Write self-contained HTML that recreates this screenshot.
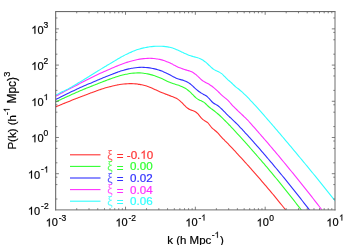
<!DOCTYPE html>
<html><head><meta charset="utf-8"><style>
html,body{margin:0;padding:0;background:#fff;}
body{width:349px;height:245px;overflow:hidden;position:relative;font-family:"Liberation Sans",sans-serif;}
</style></head><body>
<svg width="349" height="245" viewBox="0 0 349 245" style="position:absolute;left:0;top:0;will-change:transform">
<defs><clipPath id="c"><rect x="55.7" y="11.6" width="279.3" height="198.3"/></clipPath></defs>
<g clip-path="url(#c)" fill="none" stroke-width="1.1" stroke-linejoin="round">
<path d="M55.70,106.81 C56.03,106.68 57.03,106.30 57.70,106.03 C58.37,105.77 59.03,105.50 59.70,105.23 C60.37,104.96 61.03,104.68 61.70,104.41 C62.37,104.13 63.03,103.84 63.70,103.57 C64.37,103.29 65.03,103.01 65.70,102.74 C66.37,102.47 67.03,102.21 67.70,101.95 C68.37,101.68 69.03,101.41 69.70,101.15 C70.37,100.88 71.03,100.61 71.70,100.34 C72.37,100.06 73.03,99.79 73.70,99.52 C74.37,99.25 75.03,98.98 75.70,98.72 C76.37,98.46 77.03,98.20 77.70,97.95 C78.37,97.69 79.03,97.44 79.70,97.18 C80.37,96.92 81.03,96.67 81.70,96.41 C82.37,96.16 83.03,95.90 83.70,95.65 C84.37,95.40 85.03,95.15 85.70,94.90 C86.37,94.65 87.03,94.40 87.70,94.15 C88.37,93.91 89.03,93.67 89.70,93.42 C90.37,93.17 91.03,92.91 91.70,92.65 C92.37,92.40 93.03,92.15 93.70,91.90 C94.37,91.65 95.03,91.40 95.70,91.16 C96.37,90.92 97.03,90.68 97.70,90.44 C98.37,90.21 99.03,89.98 99.70,89.75 C100.37,89.52 101.03,89.30 101.70,89.08 C102.37,88.86 103.03,88.65 103.70,88.44 C104.37,88.23 105.03,88.03 105.70,87.83 C106.37,87.63 107.03,87.44 107.70,87.25 C108.37,87.06 109.03,86.88 109.70,86.70 C110.37,86.53 111.03,86.36 111.70,86.20 C112.37,86.03 113.03,85.88 113.70,85.73 C114.37,85.58 115.03,85.43 115.70,85.30 C116.37,85.16 117.03,85.04 117.70,84.91 C118.37,84.79 119.03,84.68 119.70,84.58 C120.37,84.47 121.03,84.37 121.70,84.29 C122.37,84.20 123.03,84.12 123.70,84.05 C124.37,83.98 125.03,83.91 125.70,83.86 C126.37,83.81 127.03,83.77 127.70,83.73 C128.37,83.70 129.03,83.68 129.70,83.67 C130.37,83.65 131.03,83.65 131.70,83.67 C132.37,83.68 133.03,83.70 133.70,83.73 C134.37,83.77 135.03,83.81 135.70,83.87 C136.37,83.93 137.03,84.01 137.70,84.09 C138.37,84.18 139.03,84.28 139.70,84.39 C140.37,84.50 141.03,84.63 141.70,84.77 C142.37,84.92 143.03,85.07 143.70,85.25 C144.37,85.42 145.03,85.60 145.70,85.81 C146.37,86.01 147.03,86.23 147.70,86.47 C148.37,86.70 149.03,86.96 149.70,87.23 C150.37,87.49 151.03,87.77 151.70,88.06 C152.37,88.35 153.03,88.65 153.70,88.95 C154.37,89.25 155.03,89.56 155.70,89.87 C156.37,90.17 157.03,90.48 157.70,90.78 C158.37,91.09 159.03,91.39 159.70,91.68 C160.37,91.97 161.03,92.25 161.70,92.53 C162.37,92.80 163.03,93.07 163.70,93.33 C164.37,93.60 165.03,93.86 165.70,94.11 C166.37,94.37 167.03,94.62 167.70,94.87 C168.37,95.13 169.03,95.38 169.70,95.63 C170.37,95.88 171.03,96.14 171.70,96.40 C172.37,96.66 173.03,96.91 173.70,97.19 C174.37,97.47 175.03,97.74 175.70,98.06 C176.37,98.39 177.03,98.73 177.70,99.16 C178.37,99.58 179.03,100.05 179.70,100.60 C180.37,101.15 181.03,101.80 181.70,102.45 C182.37,103.11 183.03,103.84 183.70,104.52 C184.37,105.21 185.03,105.93 185.70,106.56 C186.37,107.19 187.03,107.81 187.70,108.30 C188.37,108.80 189.03,109.19 189.70,109.53 C190.37,109.86 191.03,110.06 191.70,110.30 C192.37,110.55 193.03,110.72 193.70,111.00 C194.37,111.28 195.03,111.55 195.70,112.00 C196.37,112.44 197.03,113.00 197.70,113.67 C198.37,114.35 199.03,115.26 199.70,116.04 C200.37,116.83 201.03,117.72 201.70,118.40 C202.37,119.09 203.03,119.66 203.70,120.15 C204.37,120.64 205.03,120.92 205.70,121.33 C206.37,121.74 207.03,122.00 207.70,122.63 C208.37,123.25 209.03,124.26 209.70,125.08 C210.37,125.91 211.03,126.86 211.70,127.58 C212.37,128.30 213.03,128.83 213.70,129.40 C214.37,129.97 215.03,130.43 215.70,131.00 C216.37,131.58 217.03,132.17 217.70,132.85 C218.37,133.53 219.03,134.33 219.70,135.08 C220.37,135.82 221.03,136.61 221.70,137.33 C222.37,138.06 223.03,138.77 223.70,139.45 C224.37,140.14 225.03,140.78 225.70,141.45 C226.37,142.12 227.03,142.79 227.70,143.47 C228.37,144.16 229.03,144.86 229.70,145.56 C230.37,146.26 231.03,146.97 231.70,147.67 C232.37,148.38 233.03,149.09 233.70,149.80 C234.37,150.51 235.03,151.22 235.70,151.94 C236.37,152.66 237.03,153.38 237.70,154.10 C238.37,154.82 239.03,155.54 239.70,156.27 C240.37,157.00 241.03,157.73 241.70,158.46 C242.37,159.19 243.03,159.92 243.70,160.66 C244.37,161.40 245.03,162.14 245.70,162.88 C246.37,163.62 247.03,164.37 247.70,165.11 C248.37,165.86 249.03,166.61 249.70,167.36 C250.37,168.11 251.03,168.85 251.70,169.60 C252.37,170.35 253.03,171.10 253.70,171.86 C254.37,172.61 255.03,173.36 255.70,174.12 C256.37,174.88 257.03,175.64 257.70,176.41 C258.37,177.17 259.03,177.93 259.70,178.70 C260.37,179.47 261.03,180.24 261.70,181.02 C262.37,181.79 263.03,182.57 263.70,183.35 C264.37,184.13 265.03,184.91 265.70,185.69 C266.37,186.48 267.03,187.26 267.70,188.05 C268.37,188.84 269.03,189.63 269.70,190.43 C270.37,191.22 271.03,192.02 271.70,192.82 C272.37,193.62 273.03,194.42 273.70,195.22 C274.37,196.03 275.03,196.84 275.70,197.65 C276.37,198.46 277.03,199.27 277.70,200.08 C278.37,200.90 279.03,201.72 279.70,202.54 C280.37,203.36 281.03,204.18 281.70,205.01 C282.37,205.83 283.03,206.66 283.70,207.49 C284.37,208.32 285.37,209.58 285.70,210.00" stroke="#ff3030"/>
<path d="M55.70,101.94 C56.03,101.78 57.03,101.30 57.70,100.98 C58.37,100.66 59.03,100.34 59.70,100.02 C60.37,99.71 61.03,99.40 61.70,99.08 C62.37,98.77 63.03,98.46 63.70,98.16 C64.37,97.85 65.03,97.54 65.70,97.24 C66.37,96.93 67.03,96.63 67.70,96.33 C68.37,96.03 69.03,95.74 69.70,95.44 C70.37,95.14 71.03,94.84 71.70,94.54 C72.37,94.24 73.03,93.94 73.70,93.64 C74.37,93.35 75.03,93.05 75.70,92.76 C76.37,92.47 77.03,92.18 77.70,91.89 C78.37,91.60 79.03,91.31 79.70,91.03 C80.37,90.75 81.03,90.46 81.70,90.18 C82.37,89.90 83.03,89.63 83.70,89.35 C84.37,89.07 85.03,88.80 85.70,88.53 C86.37,88.25 87.03,87.98 87.70,87.72 C88.37,87.45 89.03,87.18 89.70,86.92 C90.37,86.66 91.03,86.39 91.70,86.13 C92.37,85.87 93.03,85.62 93.70,85.36 C94.37,85.10 95.03,84.84 95.70,84.58 C96.37,84.31 97.03,84.03 97.70,83.76 C98.37,83.49 99.03,83.22 99.70,82.95 C100.37,82.69 101.03,82.42 101.70,82.16 C102.37,81.90 103.03,81.64 103.70,81.38 C104.37,81.12 105.03,80.87 105.70,80.62 C106.37,80.36 107.03,80.11 107.70,79.86 C108.37,79.61 109.03,79.36 109.70,79.12 C110.37,78.88 111.03,78.65 111.70,78.42 C112.37,78.19 113.03,77.97 113.70,77.74 C114.37,77.52 115.03,77.29 115.70,77.07 C116.37,76.86 117.03,76.64 117.70,76.43 C118.37,76.22 119.03,76.00 119.70,75.81 C120.37,75.61 121.03,75.44 121.70,75.27 C122.37,75.09 123.03,74.93 123.70,74.77 C124.37,74.62 125.03,74.47 125.70,74.32 C126.37,74.18 127.03,74.05 127.70,73.93 C128.37,73.80 129.03,73.69 129.70,73.58 C130.37,73.48 131.03,73.38 131.70,73.30 C132.37,73.22 133.03,73.15 133.70,73.09 C134.37,73.03 135.03,72.98 135.70,72.95 C136.37,72.91 137.03,72.89 137.70,72.89 C138.37,72.88 139.03,72.89 139.70,72.92 C140.37,72.94 141.03,72.98 141.70,73.03 C142.37,73.09 143.03,73.15 143.70,73.24 C144.37,73.32 145.03,73.42 145.70,73.53 C146.37,73.64 147.03,73.76 147.70,73.90 C148.37,74.04 149.03,74.19 149.70,74.36 C150.37,74.52 151.03,74.70 151.70,74.89 C152.37,75.08 153.03,75.28 153.70,75.49 C154.37,75.71 155.03,75.93 155.70,76.17 C156.37,76.41 157.03,76.66 157.70,76.92 C158.37,77.18 159.03,77.45 159.70,77.73 C160.37,78.02 161.03,78.31 161.70,78.61 C162.37,78.91 163.03,79.22 163.70,79.53 C164.37,79.84 165.03,80.15 165.70,80.46 C166.37,80.77 167.03,81.08 167.70,81.38 C168.37,81.68 169.03,81.97 169.70,82.26 C170.37,82.54 171.03,82.81 171.70,83.07 C172.37,83.32 173.03,83.56 173.70,83.79 C174.37,84.01 175.03,84.22 175.70,84.42 C176.37,84.63 177.03,84.83 177.70,85.04 C178.37,85.25 179.03,85.46 179.70,85.70 C180.37,85.94 181.03,86.18 181.70,86.47 C182.37,86.75 183.03,87.05 183.70,87.40 C184.37,87.75 185.03,88.13 185.70,88.57 C186.37,89.00 187.03,89.49 187.70,90.01 C188.37,90.54 189.03,91.11 189.70,91.71 C190.37,92.31 191.03,92.95 191.70,93.61 C192.37,94.27 193.03,94.99 193.70,95.66 C194.37,96.33 195.03,97.06 195.70,97.63 C196.37,98.21 197.03,98.69 197.70,99.10 C198.37,99.52 199.03,99.81 199.70,100.14 C200.37,100.46 201.03,100.71 201.70,101.05 C202.37,101.38 203.03,101.69 203.70,102.14 C204.37,102.59 205.03,103.12 205.70,103.73 C206.37,104.33 207.03,105.14 207.70,105.77 C208.37,106.41 209.03,107.00 209.70,107.55 C210.37,108.10 211.03,108.56 211.70,109.06 C212.37,109.56 213.03,110.06 213.70,110.56 C214.37,111.07 215.03,111.58 215.70,112.11 C216.37,112.64 217.03,113.18 217.70,113.74 C218.37,114.31 219.03,114.89 219.70,115.49 C220.37,116.10 221.03,116.72 221.70,117.35 C222.37,117.99 223.03,118.64 223.70,119.30 C224.37,119.96 225.03,120.64 225.70,121.31 C226.37,121.99 227.03,122.68 227.70,123.37 C228.37,124.06 229.03,124.76 229.70,125.46 C230.37,126.16 231.03,126.87 231.70,127.58 C232.37,128.28 233.03,128.99 233.70,129.70 C234.37,130.41 235.03,131.12 235.70,131.84 C236.37,132.56 237.03,133.28 237.70,134.01 C238.37,134.73 239.03,135.46 239.70,136.20 C240.37,136.93 241.03,137.66 241.70,138.40 C242.37,139.13 243.03,139.87 243.70,140.61 C244.37,141.35 245.03,142.10 245.70,142.84 C246.37,143.59 247.03,144.34 247.70,145.09 C248.37,145.84 249.03,146.60 249.70,147.35 C250.37,148.11 251.03,148.87 251.70,149.63 C252.37,150.39 253.03,151.16 253.70,151.92 C254.37,152.68 255.03,153.45 255.70,154.21 C256.37,154.98 257.03,155.73 257.70,156.50 C258.37,157.26 259.03,158.03 259.70,158.80 C260.37,159.57 261.03,160.34 261.70,161.11 C262.37,161.89 263.03,162.67 263.70,163.45 C264.37,164.22 265.03,165.01 265.70,165.79 C266.37,166.58 267.03,167.36 267.70,168.15 C268.37,168.94 269.03,169.73 269.70,170.53 C270.37,171.32 271.03,172.12 271.70,172.92 C272.37,173.72 273.03,174.52 273.70,175.32 C274.37,176.13 275.03,176.93 275.70,177.74 C276.37,178.55 277.03,179.36 277.70,180.18 C278.37,180.99 279.03,181.81 279.70,182.63 C280.37,183.45 281.03,184.27 281.70,185.09 C282.37,185.92 283.03,186.74 283.70,187.57 C284.37,188.40 285.03,189.23 285.70,190.07 C286.37,190.90 287.03,191.74 287.70,192.58 C288.37,193.42 289.03,194.26 289.70,195.10 C290.37,195.95 291.03,196.79 291.70,197.64 C292.37,198.49 293.03,199.34 293.70,200.20 C294.37,201.05 295.03,201.91 295.70,202.77 C296.37,203.63 297.03,204.49 297.70,205.35 C298.37,206.22 299.03,207.08 299.70,207.95 C300.37,208.83 301.37,210.16 301.70,210.60" stroke="#30ff30"/>
<path d="M55.70,99.56 C56.03,99.38 57.03,98.86 57.70,98.52 C58.37,98.17 59.03,97.83 59.70,97.49 C60.37,97.15 61.03,96.81 61.70,96.48 C62.37,96.14 63.03,95.81 63.70,95.47 C64.37,95.14 65.03,94.81 65.70,94.48 C66.37,94.16 67.03,93.83 67.70,93.51 C68.37,93.18 69.03,92.86 69.70,92.54 C70.37,92.22 71.03,91.90 71.70,91.58 C72.37,91.26 73.03,90.94 73.70,90.63 C74.37,90.32 75.03,90.00 75.70,89.69 C76.37,89.38 77.03,89.07 77.70,88.77 C78.37,88.46 79.03,88.16 79.70,87.86 C80.37,87.55 81.03,87.25 81.70,86.95 C82.37,86.66 83.03,86.36 83.70,86.07 C84.37,85.77 85.03,85.48 85.70,85.19 C86.37,84.90 87.03,84.61 87.70,84.33 C88.37,84.04 89.03,83.76 89.70,83.48 C90.37,83.19 91.03,82.91 91.70,82.64 C92.37,82.36 93.03,82.09 93.70,81.81 C94.37,81.53 95.03,81.26 95.70,80.97 C96.37,80.69 97.03,80.40 97.70,80.11 C98.37,79.83 99.03,79.54 99.70,79.26 C100.37,78.98 101.03,78.70 101.70,78.43 C102.37,78.15 103.03,77.87 103.70,77.60 C104.37,77.33 105.03,77.06 105.70,76.79 C106.37,76.52 107.03,76.25 107.70,75.99 C108.37,75.72 109.03,75.46 109.70,75.20 C110.37,74.94 111.03,74.67 111.70,74.41 C112.37,74.15 113.03,73.89 113.70,73.63 C114.37,73.38 115.03,73.12 115.70,72.87 C116.37,72.62 117.03,72.37 117.70,72.12 C118.37,71.88 119.03,71.63 119.70,71.40 C120.37,71.17 121.03,70.97 121.70,70.77 C122.37,70.57 123.03,70.38 123.70,70.19 C124.37,70.00 125.03,69.82 125.70,69.65 C126.37,69.47 127.03,69.30 127.70,69.15 C128.37,68.99 129.03,68.84 129.70,68.69 C130.37,68.55 131.03,68.42 131.70,68.30 C132.37,68.17 133.03,68.06 133.70,67.96 C134.37,67.86 135.03,67.76 135.70,67.68 C136.37,67.60 137.03,67.54 137.70,67.48 C138.37,67.42 139.03,67.38 139.70,67.35 C140.37,67.32 141.03,67.30 141.70,67.30 C142.37,67.30 143.03,67.30 143.70,67.33 C144.37,67.35 145.03,67.39 145.70,67.43 C146.37,67.48 147.03,67.54 147.70,67.62 C148.37,67.69 149.03,67.78 149.70,67.88 C150.37,67.98 151.03,68.10 151.70,68.22 C152.37,68.35 153.03,68.49 153.70,68.64 C154.37,68.79 155.03,68.96 155.70,69.14 C156.37,69.32 157.03,69.51 157.70,69.71 C158.37,69.92 159.03,70.13 159.70,70.36 C160.37,70.59 161.03,70.83 161.70,71.09 C162.37,71.34 163.03,71.61 163.70,71.89 C164.37,72.17 165.03,72.47 165.70,72.77 C166.37,73.08 167.03,73.40 167.70,73.73 C168.37,74.06 169.03,74.40 169.70,74.76 C170.37,75.11 171.03,75.49 171.70,75.86 C172.37,76.23 173.03,76.63 173.70,76.98 C174.37,77.34 175.03,77.70 175.70,78.00 C176.37,78.30 177.03,78.58 177.70,78.80 C178.37,79.03 179.03,79.19 179.70,79.37 C180.37,79.55 181.03,79.68 181.70,79.86 C182.37,80.04 183.03,80.22 183.70,80.44 C184.37,80.67 185.03,80.90 185.70,81.20 C186.37,81.49 187.03,81.81 187.70,82.20 C188.37,82.58 189.03,83.01 189.70,83.51 C190.37,84.01 191.03,84.60 191.70,85.18 C192.37,85.76 193.03,86.41 193.70,87.01 C194.37,87.61 195.03,88.22 195.70,88.80 C196.37,89.38 197.03,89.95 197.70,90.49 C198.37,91.02 199.03,91.54 199.70,92.02 C200.37,92.50 201.03,92.94 201.70,93.35 C202.37,93.76 203.03,94.09 203.70,94.45 C204.37,94.82 205.03,95.13 205.70,95.56 C206.37,95.99 207.03,96.44 207.70,97.04 C208.37,97.64 209.03,98.44 209.70,99.18 C210.37,99.93 211.03,100.83 211.70,101.51 C212.37,102.19 213.03,102.79 213.70,103.27 C214.37,103.74 215.03,104.01 215.70,104.37 C216.37,104.74 217.03,105.02 217.70,105.47 C218.37,105.91 219.03,106.47 219.70,107.06 C220.37,107.66 221.03,108.34 221.70,109.01 C222.37,109.69 223.03,110.43 223.70,111.12 C224.37,111.82 225.03,112.53 225.70,113.20 C226.37,113.87 227.03,114.50 227.70,115.13 C228.37,115.77 229.03,116.37 229.70,117.01 C230.37,117.65 231.03,118.31 231.70,118.95 C232.37,119.59 233.03,120.20 233.70,120.84 C234.37,121.47 235.03,122.11 235.70,122.76 C236.37,123.41 237.03,124.06 237.70,124.72 C238.37,125.39 239.03,126.07 239.70,126.77 C240.37,127.47 241.03,128.19 241.70,128.91 C242.37,129.63 243.03,130.36 243.70,131.09 C244.37,131.81 245.03,132.54 245.70,133.27 C246.37,134.00 247.03,134.74 247.70,135.47 C248.37,136.21 249.03,136.95 249.70,137.69 C250.37,138.43 251.03,139.17 251.70,139.92 C252.37,140.66 253.03,141.41 253.70,142.16 C254.37,142.91 255.03,143.66 255.70,144.41 C256.37,145.17 257.03,145.92 257.70,146.68 C258.37,147.44 259.03,148.20 259.70,148.97 C260.37,149.73 261.03,150.50 261.70,151.27 C262.37,152.03 263.03,152.81 263.70,153.58 C264.37,154.35 265.03,155.13 265.70,155.91 C266.37,156.68 267.03,157.46 267.70,158.25 C268.37,159.03 269.03,159.81 269.70,160.60 C270.37,161.39 271.03,162.18 271.70,162.97 C272.37,163.76 273.03,164.55 273.70,165.35 C274.37,166.15 275.03,166.95 275.70,167.75 C276.37,168.55 277.03,169.35 277.70,170.16 C278.37,170.96 279.03,171.77 279.70,172.58 C280.37,173.39 281.03,174.21 281.70,175.02 C282.37,175.84 283.03,176.65 283.70,177.47 C284.37,178.29 285.03,179.12 285.70,179.94 C286.37,180.77 287.03,181.59 287.70,182.42 C288.37,183.25 289.03,184.09 289.70,184.92 C290.37,185.75 291.03,186.57 291.70,187.40 C292.37,188.23 293.03,189.05 293.70,189.89 C294.37,190.72 295.03,191.55 295.70,192.39 C296.37,193.23 297.03,194.07 297.70,194.91 C298.37,195.75 299.03,196.59 299.70,197.44 C300.37,198.29 301.03,199.13 301.70,199.98 C302.37,200.84 303.03,201.69 303.70,202.54 C304.37,203.40 305.03,204.26 305.70,205.12 C306.37,205.98 307.03,206.84 307.70,207.71 C308.37,208.58 309.37,209.90 309.70,210.34" stroke="#3030ff"/>
<path d="M55.70,96.28 C56.03,96.10 57.03,95.55 57.70,95.19 C58.37,94.83 59.03,94.46 59.70,94.10 C60.37,93.73 61.03,93.36 61.70,93.00 C62.37,92.63 63.03,92.26 63.70,91.90 C64.37,91.54 65.03,91.18 65.70,90.83 C66.37,90.48 67.03,90.15 67.70,89.82 C68.37,89.48 69.03,89.14 69.70,88.80 C70.37,88.46 71.03,88.12 71.70,87.79 C72.37,87.45 73.03,87.12 73.70,86.78 C74.37,86.44 75.03,86.10 75.70,85.75 C76.37,85.40 77.03,85.04 77.70,84.69 C78.37,84.33 79.03,83.98 79.70,83.63 C80.37,83.28 81.03,82.93 81.70,82.58 C82.37,82.23 83.03,81.88 83.70,81.53 C84.37,81.18 85.03,80.84 85.70,80.49 C86.37,80.15 87.03,79.81 87.70,79.46 C88.37,79.12 89.03,78.78 89.70,78.44 C90.37,78.10 91.03,77.77 91.70,77.43 C92.37,77.10 93.03,76.76 93.70,76.43 C94.37,76.10 95.03,75.77 95.70,75.45 C96.37,75.13 97.03,74.83 97.70,74.52 C98.37,74.20 99.03,73.90 99.70,73.59 C100.37,73.28 101.03,72.98 101.70,72.68 C102.37,72.37 103.03,72.07 103.70,71.78 C104.37,71.48 105.03,71.18 105.70,70.89 C106.37,70.60 107.03,70.31 107.70,70.02 C108.37,69.74 109.03,69.46 109.70,69.17 C110.37,68.88 111.03,68.59 111.70,68.30 C112.37,68.01 113.03,67.72 113.70,67.44 C114.37,67.16 115.03,66.88 115.70,66.60 C116.37,66.32 117.03,66.05 117.70,65.78 C118.37,65.51 119.03,65.25 119.70,64.99 C120.37,64.73 121.03,64.47 121.70,64.22 C122.37,63.97 123.03,63.73 123.70,63.49 C124.37,63.25 125.03,63.02 125.70,62.79 C126.37,62.56 127.03,62.34 127.70,62.13 C128.37,61.92 129.03,61.71 129.70,61.51 C130.37,61.31 131.03,61.12 131.70,60.94 C132.37,60.75 133.03,60.58 133.70,60.41 C134.37,60.24 135.03,60.08 135.70,59.93 C136.37,59.78 137.03,59.64 137.70,59.51 C138.37,59.38 139.03,59.26 139.70,59.15 C140.37,59.04 141.03,58.93 141.70,58.84 C142.37,58.75 143.03,58.67 143.70,58.60 C144.37,58.54 145.03,58.48 145.70,58.43 C146.37,58.39 147.03,58.35 147.70,58.33 C148.37,58.31 149.03,58.30 149.70,58.30 C150.37,58.31 151.03,58.32 151.70,58.35 C152.37,58.38 153.03,58.43 153.70,58.48 C154.37,58.54 155.03,58.61 155.70,58.70 C156.37,58.79 157.03,58.89 157.70,59.00 C158.37,59.12 159.03,59.25 159.70,59.40 C160.37,59.55 161.03,59.71 161.70,59.89 C162.37,60.07 163.03,60.27 163.70,60.48 C164.37,60.69 165.03,60.92 165.70,61.17 C166.37,61.42 167.03,61.68 167.70,61.97 C168.37,62.25 169.03,62.56 169.70,62.87 C170.37,63.19 171.03,63.53 171.70,63.86 C172.37,64.20 173.03,64.55 173.70,64.90 C174.37,65.24 175.03,65.59 175.70,65.92 C176.37,66.26 177.03,66.59 177.70,66.90 C178.37,67.21 179.03,67.50 179.70,67.78 C180.37,68.06 181.03,68.31 181.70,68.56 C182.37,68.80 183.03,69.03 183.70,69.25 C184.37,69.47 185.03,69.67 185.70,69.87 C186.37,70.06 187.03,70.24 187.70,70.43 C188.37,70.63 189.03,70.79 189.70,71.02 C190.37,71.25 191.03,71.49 191.70,71.81 C192.37,72.13 193.03,72.50 193.70,72.93 C194.37,73.37 195.03,73.87 195.70,74.41 C196.37,74.96 197.03,75.60 197.70,76.22 C198.37,76.85 199.03,77.54 199.70,78.16 C200.37,78.79 201.03,79.43 201.70,79.96 C202.37,80.50 203.03,80.96 203.70,81.38 C204.37,81.80 205.03,82.13 205.70,82.49 C206.37,82.84 207.03,83.14 207.70,83.51 C208.37,83.87 209.03,84.24 209.70,84.66 C210.37,85.08 211.03,85.53 211.70,86.02 C212.37,86.50 213.03,87.02 213.70,87.57 C214.37,88.11 215.03,88.69 215.70,89.29 C216.37,89.88 217.03,90.51 217.70,91.15 C218.37,91.79 219.03,92.47 219.70,93.12 C220.37,93.77 221.03,94.44 221.70,95.06 C222.37,95.67 223.03,96.27 223.70,96.82 C224.37,97.37 225.03,97.81 225.70,98.36 C226.37,98.90 227.03,99.44 227.70,100.09 C228.37,100.74 229.03,101.50 229.70,102.25 C230.37,102.99 231.03,103.79 231.70,104.53 C232.37,105.27 233.03,105.99 233.70,106.69 C234.37,107.38 235.03,108.04 235.70,108.70 C236.37,109.35 237.03,109.99 237.70,110.62 C238.37,111.25 239.03,111.87 239.70,112.50 C240.37,113.12 241.03,113.74 241.70,114.37 C242.37,115.00 243.03,115.63 243.70,116.27 C244.37,116.90 245.03,117.52 245.70,118.18 C246.37,118.83 247.03,119.51 247.70,120.21 C248.37,120.91 249.03,121.64 249.70,122.38 C250.37,123.11 251.03,123.87 251.70,124.63 C252.37,125.39 253.03,126.17 253.70,126.93 C254.37,127.69 255.03,128.44 255.70,129.19 C256.37,129.95 257.03,130.70 257.70,131.46 C258.37,132.22 259.03,132.98 259.70,133.74 C260.37,134.50 261.03,135.27 261.70,136.03 C262.37,136.80 263.03,137.57 263.70,138.34 C264.37,139.11 265.03,139.88 265.70,140.65 C266.37,141.42 267.03,142.20 267.70,142.98 C268.37,143.75 269.03,144.53 269.70,145.31 C270.37,146.09 271.03,146.88 271.70,147.66 C272.37,148.45 273.03,149.23 273.70,150.02 C274.37,150.81 275.03,151.60 275.70,152.39 C276.37,153.18 277.03,153.98 277.70,154.77 C278.37,155.57 279.03,156.37 279.70,157.17 C280.37,157.97 281.03,158.77 281.70,159.57 C282.37,160.37 283.03,161.18 283.70,161.99 C284.37,162.79 285.03,163.60 285.70,164.41 C286.37,165.23 287.03,166.04 287.70,166.85 C288.37,167.67 289.03,168.49 289.70,169.30 C290.37,170.12 291.03,170.93 291.70,171.74 C292.37,172.56 293.03,173.37 293.70,174.19 C294.37,175.00 295.03,175.82 295.70,176.65 C296.37,177.47 297.03,178.29 297.70,179.11 C298.37,179.94 299.03,180.77 299.70,181.59 C300.37,182.42 301.03,183.25 301.70,184.09 C302.37,184.92 303.03,185.75 303.70,186.59 C304.37,187.42 305.03,188.26 305.70,189.10 C306.37,189.94 307.03,190.78 307.70,191.63 C308.37,192.47 309.03,193.32 309.70,194.16 C310.37,195.01 311.03,195.86 311.70,196.71 C312.37,197.56 313.03,198.42 313.70,199.27 C314.37,200.13 315.03,200.98 315.70,201.84 C316.37,202.70 317.03,203.56 317.70,204.42 C318.37,205.29 319.03,206.15 319.70,207.02 C320.37,207.89 321.37,209.21 321.70,209.65" stroke="#ff30ff"/>
<path d="M55.70,95.15 C56.03,94.98 57.03,94.47 57.70,94.13 C58.37,93.79 59.03,93.45 59.70,93.11 C60.37,92.77 61.03,92.42 61.70,92.09 C62.37,91.76 63.03,91.45 63.70,91.12 C64.37,90.80 65.03,90.48 65.70,90.16 C66.37,89.84 67.03,89.55 67.70,89.20 C68.37,88.85 69.03,88.44 69.70,88.05 C70.37,87.66 71.03,87.26 71.70,86.87 C72.37,86.47 73.03,86.08 73.70,85.68 C74.37,85.29 75.03,84.90 75.70,84.50 C76.37,84.11 77.03,83.71 77.70,83.32 C78.37,82.92 79.03,82.53 79.70,82.14 C80.37,81.74 81.03,81.35 81.70,80.96 C82.37,80.56 83.03,80.18 83.70,79.78 C84.37,79.38 85.03,78.98 85.70,78.57 C86.37,78.16 87.03,77.73 87.70,77.31 C88.37,76.89 89.03,76.47 89.70,76.05 C90.37,75.63 91.03,75.21 91.70,74.79 C92.37,74.37 93.03,73.95 93.70,73.53 C94.37,73.12 95.03,72.70 95.70,72.29 C96.37,71.88 97.03,71.48 97.70,71.07 C98.37,70.66 99.03,70.26 99.70,69.85 C100.37,69.45 101.03,69.05 101.70,68.64 C102.37,68.24 103.03,67.84 103.70,67.44 C104.37,67.04 105.03,66.64 105.70,66.24 C106.37,65.84 107.03,65.44 107.70,65.05 C108.37,64.65 109.03,64.26 109.70,63.86 C110.37,63.46 111.03,63.06 111.70,62.66 C112.37,62.26 113.03,61.85 113.70,61.46 C114.37,61.06 115.03,60.66 115.70,60.26 C116.37,59.87 117.03,59.47 117.70,59.08 C118.37,58.69 119.03,58.31 119.70,57.92 C120.37,57.54 121.03,57.16 121.70,56.78 C122.37,56.41 123.03,56.03 123.70,55.67 C124.37,55.31 125.03,54.96 125.70,54.62 C126.37,54.29 127.03,53.97 127.70,53.66 C128.37,53.35 129.03,53.04 129.70,52.74 C130.37,52.44 131.03,52.15 131.70,51.87 C132.37,51.59 133.03,51.31 133.70,51.05 C134.37,50.79 135.03,50.53 135.70,50.29 C136.37,50.04 137.03,49.81 137.70,49.59 C138.37,49.37 139.03,49.16 139.70,48.96 C140.37,48.76 141.03,48.57 141.70,48.39 C142.37,48.22 143.03,48.06 143.70,47.90 C144.37,47.75 145.03,47.61 145.70,47.48 C146.37,47.35 147.03,47.23 147.70,47.12 C148.37,47.01 149.03,46.91 149.70,46.82 C150.37,46.74 151.03,46.66 151.70,46.59 C152.37,46.52 153.03,46.47 153.70,46.42 C154.37,46.37 155.03,46.33 155.70,46.30 C156.37,46.27 157.03,46.25 157.70,46.24 C158.37,46.23 159.03,46.23 159.70,46.24 C160.37,46.25 161.03,46.26 161.70,46.29 C162.37,46.32 163.03,46.35 163.70,46.40 C164.37,46.45 165.03,46.52 165.70,46.60 C166.37,46.67 167.03,46.77 167.70,46.88 C168.37,46.99 169.03,47.12 169.70,47.27 C170.37,47.42 171.03,47.58 171.70,47.78 C172.37,47.97 173.03,48.18 173.70,48.42 C174.37,48.65 175.03,48.91 175.70,49.18 C176.37,49.46 177.03,49.75 177.70,50.05 C178.37,50.35 179.03,50.66 179.70,50.98 C180.37,51.29 181.03,51.61 181.70,51.93 C182.37,52.25 183.03,52.58 183.70,52.89 C184.37,53.21 185.03,53.52 185.70,53.82 C186.37,54.12 187.03,54.41 187.70,54.69 C188.37,54.96 189.03,55.22 189.70,55.45 C190.37,55.69 191.03,55.90 191.70,56.10 C192.37,56.30 193.03,56.48 193.70,56.66 C194.37,56.85 195.03,57.02 195.70,57.22 C196.37,57.41 197.03,57.60 197.70,57.83 C198.37,58.05 199.03,58.28 199.70,58.56 C200.37,58.84 201.03,59.13 201.70,59.48 C202.37,59.84 203.03,60.22 203.70,60.67 C204.37,61.11 205.03,61.62 205.70,62.17 C206.37,62.72 207.03,63.38 207.70,63.99 C208.37,64.60 209.03,65.21 209.70,65.84 C210.37,66.46 211.03,67.16 211.70,67.75 C212.37,68.35 213.03,68.94 213.70,69.41 C214.37,69.87 215.03,70.20 215.70,70.53 C216.37,70.87 217.03,71.11 217.70,71.41 C218.37,71.71 219.03,71.98 219.70,72.36 C220.37,72.74 221.03,73.15 221.70,73.68 C222.37,74.22 223.03,74.89 223.70,75.55 C224.37,76.21 225.03,76.98 225.70,77.66 C226.37,78.34 227.03,79.03 227.70,79.62 C228.37,80.21 229.03,80.65 229.70,81.21 C230.37,81.78 231.03,82.38 231.70,83.02 C232.37,83.65 233.03,84.38 233.70,85.02 C234.37,85.65 235.03,86.25 235.70,86.82 C236.37,87.38 237.03,87.87 237.70,88.40 C238.37,88.93 239.03,89.45 239.70,90.00 C240.37,90.55 241.03,91.12 241.70,91.71 C242.37,92.30 243.03,92.91 243.70,93.54 C244.37,94.16 245.03,94.80 245.70,95.46 C246.37,96.11 247.03,96.78 247.70,97.46 C248.37,98.14 249.03,98.83 249.70,99.53 C250.37,100.23 251.03,100.95 251.70,101.66 C252.37,102.36 253.03,103.06 253.70,103.78 C254.37,104.49 255.03,105.21 255.70,105.94 C256.37,106.67 257.03,107.41 257.70,108.15 C258.37,108.89 259.03,109.64 259.70,110.39 C260.37,111.14 261.03,111.90 261.70,112.66 C262.37,113.42 263.03,114.18 263.70,114.95 C264.37,115.71 265.03,116.48 265.70,117.24 C266.37,118.01 267.03,118.77 267.70,119.54 C268.37,120.31 269.03,121.08 269.70,121.85 C270.37,122.62 271.03,123.39 271.70,124.16 C272.37,124.94 273.03,125.71 273.70,126.48 C274.37,127.26 275.03,128.03 275.70,128.81 C276.37,129.59 277.03,130.36 277.70,131.14 C278.37,131.92 279.03,132.70 279.70,133.48 C280.37,134.26 281.03,135.05 281.70,135.83 C282.37,136.61 283.03,137.40 283.70,138.18 C284.37,138.97 285.03,139.75 285.70,140.54 C286.37,141.33 287.03,142.12 287.70,142.90 C288.37,143.69 289.03,144.48 289.70,145.28 C290.37,146.07 291.03,146.86 291.70,147.65 C292.37,148.45 293.03,149.24 293.70,150.04 C294.37,150.83 295.03,151.63 295.70,152.43 C296.37,153.23 297.03,154.03 297.70,154.83 C298.37,155.63 299.03,156.43 299.70,157.23 C300.37,158.03 301.03,158.83 301.70,159.64 C302.37,160.44 303.03,161.25 303.70,162.05 C304.37,162.86 305.03,163.67 305.70,164.48 C306.37,165.29 307.03,166.10 307.70,166.91 C308.37,167.72 309.03,168.53 309.70,169.34 C310.37,170.15 311.03,170.97 311.70,171.78 C312.37,172.60 313.03,173.41 313.70,174.23 C314.37,175.05 315.03,175.87 315.70,176.69 C316.37,177.51 317.03,178.33 317.70,179.15 C318.37,179.97 319.03,180.79 319.70,181.61 C320.37,182.44 321.03,183.26 321.70,184.09 C322.37,184.91 323.03,185.74 323.70,186.57 C324.37,187.40 325.03,188.22 325.70,189.05 C326.37,189.88 327.03,190.71 327.70,191.55 C328.37,192.38 329.03,193.21 329.70,194.05 C330.37,194.88 331.03,195.72 331.70,196.55 C332.37,197.39 333.03,198.23 333.70,199.06 C334.37,199.90 335.37,201.16 335.70,201.58" stroke="#30ffff"/>
</g>
<path d="M55.7,210.4 V11.6 M55.2,11.6 H335.5" fill="none" stroke="#5c5c5c" stroke-width="1"/>
<path d="M335.0,11.6 V210.4 M335.5,209.9 H55.2" fill="none" stroke="#6e6e6e" stroke-width="1"/>
<path d="M76.72,209.9 v-1.7 M76.72,11.6 v1.7 M89.01,209.9 v-1.7 M89.01,11.6 v1.7 M97.74,209.9 v-1.7 M97.74,11.6 v1.7 M104.51,209.9 v-1.7 M104.51,11.6 v1.7 M110.03,209.9 v-1.7 M110.03,11.6 v1.7 M114.71,209.9 v-1.7 M114.71,11.6 v1.7 M118.76,209.9 v-1.7 M118.76,11.6 v1.7 M122.33,209.9 v-1.7 M122.33,11.6 v1.7 M125.53,209.9 v-3.2 M125.53,11.6 v3.2 M146.54,209.9 v-1.7 M146.54,11.6 v1.7 M158.84,209.9 v-1.7 M158.84,11.6 v1.7 M167.56,209.9 v-1.7 M167.56,11.6 v1.7 M174.33,209.9 v-1.7 M174.33,11.6 v1.7 M179.86,209.9 v-1.7 M179.86,11.6 v1.7 M184.53,209.9 v-1.7 M184.53,11.6 v1.7 M188.58,209.9 v-1.7 M188.58,11.6 v1.7 M192.15,209.9 v-1.7 M192.15,11.6 v1.7 M195.35,209.9 v-3.2 M195.35,11.6 v3.2 M216.37,209.9 v-1.7 M216.37,11.6 v1.7 M228.66,209.9 v-1.7 M228.66,11.6 v1.7 M237.39,209.9 v-1.7 M237.39,11.6 v1.7 M244.16,209.9 v-1.7 M244.16,11.6 v1.7 M249.68,209.9 v-1.7 M249.68,11.6 v1.7 M254.36,209.9 v-1.7 M254.36,11.6 v1.7 M258.41,209.9 v-1.7 M258.41,11.6 v1.7 M261.98,209.9 v-1.7 M261.98,11.6 v1.7 M265.18,209.9 v-3.2 M265.18,11.6 v3.2 M286.19,209.9 v-1.7 M286.19,11.6 v1.7 M298.49,209.9 v-1.7 M298.49,11.6 v1.7 M307.21,209.9 v-1.7 M307.21,11.6 v1.7 M313.98,209.9 v-1.7 M313.98,11.6 v1.7 M319.51,209.9 v-1.7 M319.51,11.6 v1.7 M324.18,209.9 v-1.7 M324.18,11.6 v1.7 M328.23,209.9 v-1.7 M328.23,11.6 v1.7 M331.80,209.9 v-1.7 M331.80,11.6 v1.7 M55.7,199.00 h1.7 M335.0,199.00 h-1.7 M55.7,184.59 h1.7 M335.0,184.59 h-1.7 M55.7,177.20 h1.7 M335.0,177.20 h-1.7 M55.7,173.69 h3.2 M335.0,173.69 h-3.2 M55.7,162.80 h1.7 M335.0,162.80 h-1.7 M55.7,148.39 h1.7 M335.0,148.39 h-1.7 M55.7,141.00 h1.7 M335.0,141.00 h-1.7 M55.7,137.49 h3.2 M335.0,137.49 h-3.2 M55.7,126.59 h1.7 M335.0,126.59 h-1.7 M55.7,112.18 h1.7 M335.0,112.18 h-1.7 M55.7,104.79 h1.7 M335.0,104.79 h-1.7 M55.7,101.28 h3.2 M335.0,101.28 h-3.2 M55.7,90.39 h1.7 M335.0,90.39 h-1.7 M55.7,75.98 h1.7 M335.0,75.98 h-1.7 M55.7,68.59 h1.7 M335.0,68.59 h-1.7 M55.7,65.08 h3.2 M335.0,65.08 h-3.2 M55.7,54.18 h1.7 M335.0,54.18 h-1.7 M55.7,39.77 h1.7 M335.0,39.77 h-1.7 M55.7,32.38 h1.7 M335.0,32.38 h-1.7 M55.7,28.87 h3.2 M335.0,28.87 h-3.2 M55.7,17.98 h1.7 M335.0,17.98 h-1.7" stroke="#606060" stroke-width="0.8" fill="none"/>
<path transform="translate(45.70,226.40) scale(11,-11)" d="M0.3726 0H0.2847V0.56Q0.2529 0.5298 0.2014 0.4995T0.1089 0.4541V0.539Q0.1821 0.5735 0.2368 0.6226T0.3145 0.7178H0.3726Z" fill="#000" stroke="#000" stroke-width="0.0182"/><text x="51.82" y="226.40" font-family="Liberation Sans, sans-serif" font-size="11" fill="#000" stroke="#000" stroke-width="0.2" xml:space="preserve">0</text>
<text x="58.70" y="220.50" font-family="Liberation Sans, sans-serif" font-size="8.5" fill="#000" stroke="#000" stroke-width="0.2" >-3</text>
<path transform="translate(115.50,226.40) scale(11,-11)" d="M0.3726 0H0.2847V0.56Q0.2529 0.5298 0.2014 0.4995T0.1089 0.4541V0.539Q0.1821 0.5735 0.2368 0.6226T0.3145 0.7178H0.3726Z" fill="#000" stroke="#000" stroke-width="0.0182"/><text x="121.62" y="226.40" font-family="Liberation Sans, sans-serif" font-size="11" fill="#000" stroke="#000" stroke-width="0.2" xml:space="preserve">0</text>
<text x="128.50" y="220.50" font-family="Liberation Sans, sans-serif" font-size="8.5" fill="#000" stroke="#000" stroke-width="0.2" >-2</text>
<path transform="translate(185.40,226.40) scale(11,-11)" d="M0.3726 0H0.2847V0.56Q0.2529 0.5298 0.2014 0.4995T0.1089 0.4541V0.539Q0.1821 0.5735 0.2368 0.6226T0.3145 0.7178H0.3726Z" fill="#000" stroke="#000" stroke-width="0.0182"/><text x="191.52" y="226.40" font-family="Liberation Sans, sans-serif" font-size="11" fill="#000" stroke="#000" stroke-width="0.2" xml:space="preserve">0</text>
<text x="198.40" y="220.50" font-family="Liberation Sans, sans-serif" font-size="8.5" fill="#000" stroke="#000" stroke-width="0.2" xml:space="preserve">-</text><path transform="translate(201.23,220.50) scale(8.5,-8.5)" d="M0.3726 0H0.2847V0.56Q0.2529 0.5298 0.2014 0.4995T0.1089 0.4541V0.539Q0.1821 0.5735 0.2368 0.6226T0.3145 0.7178H0.3726Z" fill="#000" stroke="#000" stroke-width="0.0235"/>
<path transform="translate(256.60,226.40) scale(11,-11)" d="M0.3726 0H0.2847V0.56Q0.2529 0.5298 0.2014 0.4995T0.1089 0.4541V0.539Q0.1821 0.5735 0.2368 0.6226T0.3145 0.7178H0.3726Z" fill="#000" stroke="#000" stroke-width="0.0182"/><text x="262.72" y="226.40" font-family="Liberation Sans, sans-serif" font-size="11" fill="#000" stroke="#000" stroke-width="0.2" xml:space="preserve">0</text>
<text x="269.30" y="220.50" font-family="Liberation Sans, sans-serif" font-size="8.5" fill="#000" stroke="#000" stroke-width="0.2" >0</text>
<path transform="translate(326.40,226.40) scale(11,-11)" d="M0.3726 0H0.2847V0.56Q0.2529 0.5298 0.2014 0.4995T0.1089 0.4541V0.539Q0.1821 0.5735 0.2368 0.6226T0.3145 0.7178H0.3726Z" fill="#000" stroke="#000" stroke-width="0.0182"/><text x="332.52" y="226.40" font-family="Liberation Sans, sans-serif" font-size="11" fill="#000" stroke="#000" stroke-width="0.2" xml:space="preserve">0</text>
<path transform="translate(339.10,220.50) scale(8.5,-8.5)" d="M0.3726 0H0.2847V0.56Q0.2529 0.5298 0.2014 0.4995T0.1089 0.4541V0.539Q0.1821 0.5735 0.2368 0.6226T0.3145 0.7178H0.3726Z" fill="#000" stroke="#000" stroke-width="0.0235"/>
<path transform="translate(27.90,214.70) scale(11,-11)" d="M0.3726 0H0.2847V0.56Q0.2529 0.5298 0.2014 0.4995T0.1089 0.4541V0.539Q0.1821 0.5735 0.2368 0.6226T0.3145 0.7178H0.3726Z" fill="#000" stroke="#000" stroke-width="0.0182"/><text x="34.02" y="214.70" font-family="Liberation Sans, sans-serif" font-size="11" fill="#000" stroke="#000" stroke-width="0.2" xml:space="preserve">0</text>
<text x="41.10" y="208.60" font-family="Liberation Sans, sans-serif" font-size="8.5" fill="#000" stroke="#000" stroke-width="0.2" >-2</text>
<path transform="translate(27.90,178.50) scale(11,-11)" d="M0.3726 0H0.2847V0.56Q0.2529 0.5298 0.2014 0.4995T0.1089 0.4541V0.539Q0.1821 0.5735 0.2368 0.6226T0.3145 0.7178H0.3726Z" fill="#000" stroke="#000" stroke-width="0.0182"/><text x="34.02" y="178.50" font-family="Liberation Sans, sans-serif" font-size="11" fill="#000" stroke="#000" stroke-width="0.2" xml:space="preserve">0</text>
<text x="41.10" y="172.40" font-family="Liberation Sans, sans-serif" font-size="8.5" fill="#000" stroke="#000" stroke-width="0.2" xml:space="preserve">-</text><path transform="translate(43.93,172.40) scale(8.5,-8.5)" d="M0.3726 0H0.2847V0.56Q0.2529 0.5298 0.2014 0.4995T0.1089 0.4541V0.539Q0.1821 0.5735 0.2368 0.6226T0.3145 0.7178H0.3726Z" fill="#000" stroke="#000" stroke-width="0.0235"/>
<path transform="translate(31.30,142.30) scale(11,-11)" d="M0.3726 0H0.2847V0.56Q0.2529 0.5298 0.2014 0.4995T0.1089 0.4541V0.539Q0.1821 0.5735 0.2368 0.6226T0.3145 0.7178H0.3726Z" fill="#000" stroke="#000" stroke-width="0.0182"/><text x="37.42" y="142.30" font-family="Liberation Sans, sans-serif" font-size="11" fill="#000" stroke="#000" stroke-width="0.2" xml:space="preserve">0</text>
<text x="43.60" y="136.20" font-family="Liberation Sans, sans-serif" font-size="8.5" fill="#000" stroke="#000" stroke-width="0.2" >0</text>
<path transform="translate(31.30,106.10) scale(11,-11)" d="M0.3726 0H0.2847V0.56Q0.2529 0.5298 0.2014 0.4995T0.1089 0.4541V0.539Q0.1821 0.5735 0.2368 0.6226T0.3145 0.7178H0.3726Z" fill="#000" stroke="#000" stroke-width="0.0182"/><text x="37.42" y="106.10" font-family="Liberation Sans, sans-serif" font-size="11" fill="#000" stroke="#000" stroke-width="0.2" xml:space="preserve">0</text>
<path transform="translate(43.60,100.00) scale(8.5,-8.5)" d="M0.3726 0H0.2847V0.56Q0.2529 0.5298 0.2014 0.4995T0.1089 0.4541V0.539Q0.1821 0.5735 0.2368 0.6226T0.3145 0.7178H0.3726Z" fill="#000" stroke="#000" stroke-width="0.0235"/>
<path transform="translate(31.30,69.90) scale(11,-11)" d="M0.3726 0H0.2847V0.56Q0.2529 0.5298 0.2014 0.4995T0.1089 0.4541V0.539Q0.1821 0.5735 0.2368 0.6226T0.3145 0.7178H0.3726Z" fill="#000" stroke="#000" stroke-width="0.0182"/><text x="37.42" y="69.90" font-family="Liberation Sans, sans-serif" font-size="11" fill="#000" stroke="#000" stroke-width="0.2" xml:space="preserve">0</text>
<text x="43.60" y="63.80" font-family="Liberation Sans, sans-serif" font-size="8.5" fill="#000" stroke="#000" stroke-width="0.2" >2</text>
<path transform="translate(31.30,33.70) scale(11,-11)" d="M0.3726 0H0.2847V0.56Q0.2529 0.5298 0.2014 0.4995T0.1089 0.4541V0.539Q0.1821 0.5735 0.2368 0.6226T0.3145 0.7178H0.3726Z" fill="#000" stroke="#000" stroke-width="0.0182"/><text x="37.42" y="33.70" font-family="Liberation Sans, sans-serif" font-size="11" fill="#000" stroke="#000" stroke-width="0.2" xml:space="preserve">0</text>
<text x="43.60" y="27.60" font-family="Liberation Sans, sans-serif" font-size="8.5" fill="#000" stroke="#000" stroke-width="0.2" >3</text>
<text x="167.20" y="243.60" font-family="Liberation Sans, sans-serif" font-size="11.5" fill="#000" stroke="#000" stroke-width="0.2" >k (h Mpc</text>
<text x="211.80" y="237.80" font-family="Liberation Sans, sans-serif" font-size="8.5" fill="#000" stroke="#000" stroke-width="0.2" xml:space="preserve">-</text><path transform="translate(214.63,237.80) scale(8.5,-8.5)" d="M0.3726 0H0.2847V0.56Q0.2529 0.5298 0.2014 0.4995T0.1089 0.4541V0.539Q0.1821 0.5735 0.2368 0.6226T0.3145 0.7178H0.3726Z" fill="#000" stroke="#000" stroke-width="0.0235"/>
<text x="219.90" y="243.60" font-family="Liberation Sans, sans-serif" font-size="11.5" fill="#000" stroke="#000" stroke-width="0.2" >)</text>
<g transform="translate(16,149.6) rotate(-90)">
<text x="0.00" y="0.00" font-family="Liberation Sans, sans-serif" font-size="11.5" fill="#000" stroke="#000" stroke-width="0.2" >P(k) (h</text>
<text x="34.60" y="-6.30" font-family="Liberation Sans, sans-serif" font-size="8.5" fill="#000" stroke="#000" stroke-width="0.2" xml:space="preserve">-</text><path transform="translate(37.43,-6.30) scale(8.5,-8.5)" d="M0.3726 0H0.2847V0.56Q0.2529 0.5298 0.2014 0.4995T0.1089 0.4541V0.539Q0.1821 0.5735 0.2368 0.6226T0.3145 0.7178H0.3726Z" fill="#000" stroke="#000" stroke-width="0.0235"/>
<text x="46.20" y="0.00" font-family="Liberation Sans, sans-serif" font-size="11.9" fill="#000" stroke="#000" stroke-width="0.2" >Mpc)</text>
<text x="72.80" y="-6.30" font-family="Liberation Sans, sans-serif" font-size="9.3" fill="#000" stroke="#000" stroke-width="0.2" >3</text>
</g>
<path d="M70,154.8 H100.5" stroke="#ff3030" stroke-width="1.1"/>
<text x="107.2" y="158.5" font-family="Liberation Sans, sans-serif" font-size="12" fill="#ff3030" fill-opacity="0.8">ξ</text>
<text x="116.80" y="160.00" font-family="Liberation Sans, sans-serif" font-size="11.6" fill="#ff3030" stroke="#ff3030" stroke-width="0.2" >=</text>
<text x="126.80" y="158.80" font-family="Liberation Sans, sans-serif" font-size="11.6" fill="#ff3030" stroke="#ff3030" stroke-width="0.2" xml:space="preserve">-0.</text><path transform="translate(140.34,158.80) scale(11.6,-11.6)" d="M0.3726 0H0.2847V0.56Q0.2529 0.5298 0.2014 0.4995T0.1089 0.4541V0.539Q0.1821 0.5735 0.2368 0.6226T0.3145 0.7178H0.3726Z" fill="#ff3030" stroke="#ff3030" stroke-width="0.0172"/><text x="146.79" y="158.80" font-family="Liberation Sans, sans-serif" font-size="11.6" fill="#ff3030" stroke="#ff3030" stroke-width="0.2" xml:space="preserve">0</text>
<path d="M70,166.4 H100.5" stroke="#30ff30" stroke-width="1.1"/>
<text x="107.2" y="170.1" font-family="Liberation Sans, sans-serif" font-size="12" fill="#30ff30" fill-opacity="0.8">ξ</text>
<text x="116.80" y="171.60" font-family="Liberation Sans, sans-serif" font-size="11.6" fill="#30ff30" stroke="#30ff30" stroke-width="0.2" >=</text>
<text x="126.80" y="170.40" font-family="Liberation Sans, sans-serif" font-size="11.6" fill="#30ff30" stroke="#30ff30" stroke-width="0.2" xml:space="preserve"> 0.00</text>
<path d="M70,178.0 H100.5" stroke="#3030ff" stroke-width="1.1"/>
<text x="107.2" y="181.7" font-family="Liberation Sans, sans-serif" font-size="12" fill="#3030ff" fill-opacity="0.8">ξ</text>
<text x="116.80" y="183.20" font-family="Liberation Sans, sans-serif" font-size="11.6" fill="#3030ff" stroke="#3030ff" stroke-width="0.2" >=</text>
<text x="126.80" y="182.00" font-family="Liberation Sans, sans-serif" font-size="11.6" fill="#3030ff" stroke="#3030ff" stroke-width="0.2" xml:space="preserve"> 0.02</text>
<path d="M70,189.6 H100.5" stroke="#ff30ff" stroke-width="1.1"/>
<text x="107.2" y="193.3" font-family="Liberation Sans, sans-serif" font-size="12" fill="#ff30ff" fill-opacity="0.8">ξ</text>
<text x="116.80" y="194.80" font-family="Liberation Sans, sans-serif" font-size="11.6" fill="#ff30ff" stroke="#ff30ff" stroke-width="0.2" >=</text>
<text x="126.80" y="193.60" font-family="Liberation Sans, sans-serif" font-size="11.6" fill="#ff30ff" stroke="#ff30ff" stroke-width="0.2" xml:space="preserve"> 0.04</text>
<path d="M70,201.2 H100.5" stroke="#30ffff" stroke-width="1.1"/>
<text x="107.2" y="204.9" font-family="Liberation Sans, sans-serif" font-size="12" fill="#30ffff" fill-opacity="0.8">ξ</text>
<text x="116.80" y="206.40" font-family="Liberation Sans, sans-serif" font-size="11.6" fill="#30ffff" stroke="#30ffff" stroke-width="0.2" >=</text>
<text x="126.80" y="205.20" font-family="Liberation Sans, sans-serif" font-size="11.6" fill="#30ffff" stroke="#30ffff" stroke-width="0.2" xml:space="preserve"> 0.06</text>
</svg>
</body></html>
